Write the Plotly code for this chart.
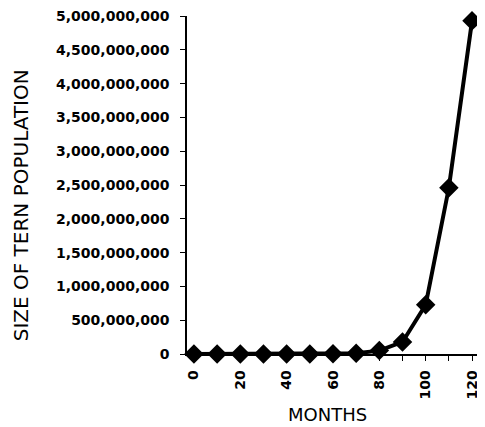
import plotly.graph_objects as go

months = [0, 10, 20, 30, 40, 50, 60, 70, 80, 90, 100, 110, 120]
population = [0, 0, 0, 0, 0, 1000000, 3000000, 12000000, 50000000,
              178000000, 727000000, 2460000000, 4930000000]
x_tick_vals = [0, 10, 20, 30, 40, 50, 60, 70, 80, 90, 100, 110, 120]
x_tick_text = ["0", "", "20", "", "40", "", "60", "", "80", "", "100", "", "120"]
y_tick_vals = [0, 500000000, 1000000000, 1500000000, 2000000000, 2500000000,
               3000000000, 3500000000, 4000000000, 4500000000, 5000000000]

fig = go.Figure()
fig.add_trace(go.Scatter(
    x=months, y=population, mode="lines+markers",
    line=dict(color="black", width=4),
    marker=dict(symbol="diamond", size=15, color="black"),
    cliponaxis=False, showlegend=False,
))

tickfont = dict(family="DejaVu Sans", size=14, color="black", weight="bold")
fig.update_layout(
    width=477, height=419,
    margin=dict(l=179, r=0, t=8, b=73, autoexpand=False),
    paper_bgcolor="white", plot_bgcolor="white",
    xaxis=dict(range=[-3.0, 125.6], tickmode="array", tickvals=x_tick_vals,
               ticktext=x_tick_text, tickangle=-90, ticks="outside", ticklen=5,
               tickcolor="black", showline=True, linecolor="black", linewidth=1.5,
               showgrid=False, zeroline=False, tickfont=tickfont,
               ticklabelstandoff=4, automargin=False, ticklabeloverflow="allow"),
    yaxis=dict(range=[0, 5002000000], tickmode="array", tickvals=y_tick_vals,
               tickformat=",d", ticks="outside", ticklen=5, tickcolor="black",
               showline=True, linecolor="black", linewidth=1.5, showgrid=False,
               zeroline=False, tickfont=tickfont, ticklabelstandoff=8,
               automargin=False, ticklabeloverflow="allow"),
    annotations=[
        dict(text="MONTHS", xref="paper", yref="paper", x=0.473, y=-0.18,
             xanchor="center", yanchor="middle", showarrow=False,
             font=dict(family="DejaVu Sans", size=18, color="black")),
        dict(text="SIZE OF TERN POPULATION", xref="paper", yref="paper",
             x=-0.557, y=0.44, xanchor="center", yanchor="middle", textangle=-90,
             showarrow=False,
             font=dict(family="DejaVu Sans", size=20, color="black")),
    ],
)
fig.write_html("out.html")
